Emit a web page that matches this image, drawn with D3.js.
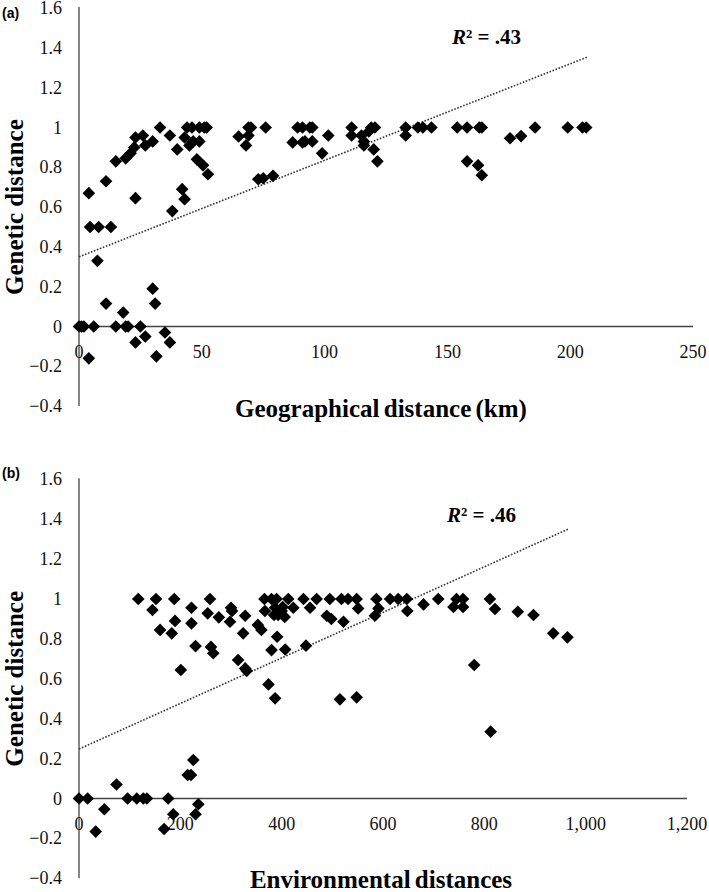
<!DOCTYPE html>
<html>
<head>
<meta charset="utf-8">
<script src="https://cdn.jsdelivr.net/npm/d3@7"></script>
<style>
  html, body { margin: 0; padding: 0; background: #fff; }
  svg { display: block; }
</style>
</head>
<body>
<svg id="chart" width="709" height="892"></svg>
<script>
// ---------- Panel (a): geographical distance ----------
const geoX = [0,1,2,6,15,19,20,25,
  27,23,35,37,31.5,4,
  30,31,11,18,
  7.5,
  4.5,8,13,
  4,11,23,42,43,38,
  15,19,21,22.5,23,26,27,30,
  33,37,40,43,44,45,46,46.5,49,49,51,52,
  48,50.5,52.5,
  65,68,69,69,70,76,
  73,75,79,
  87,89,91,91,92,94,95,95,99,101.5,
  111,111,115,116,116,118,119,120,120.5,121.5,
  133,133,138,140,143.5,
  154,158,163,164,
  158,162.5,164,
  175.5,180,185.7,199,205,206.5];
const geoY = [0,0,0,0,0,0,0,0,
  -0.05,-0.08,-0.03,-0.08,-0.15,-0.16,
  0.19,0.115,0.115,0.07,
  0.33,
  0.5,0.5,0.5,
  0.67,0.73,0.645,0.69,0.64,0.58,
  0.83,0.845,0.87,0.9,0.95,0.96,0.91,0.93,
  1.0,0.96,0.89,0.95,1.0,0.91,1.0,0.93,0.93,1.0,1.0,1.0,
  0.84,0.81,0.765,
  0.955,0.91,0.96,1.0,1.0,1.0,
  0.74,0.745,0.757,
  0.925,1.0,1.0,0.925,0.93,1.0,0.93,1.0,0.87,0.96,
  1.0,0.96,0.96,0.91,0.93,0.98,1.0,0.89,1.0,0.83,
  1.0,0.96,1.0,1.0,1.0,
  1.0,1.0,1.0,1.0,
  0.83,0.81,0.76,
  0.946,0.957,1.0,1.0,1.0,1.0];
const geoTrendX = [0, 207];
const geoTrendY = [0.35, 1.354];
const geoXTicks = [0, 50, 100, 150, 200, 250];

// ---------- Panel (b): environmental distance ----------
const envX = [0,17,96,114,127,134,176,74,50,33,186,168,230,235.5,225.6,214.5,221,
  117,152,188,258.5,366,380,390,413,443,469,495,518,531,548,587,614,630,647,709,745,758,811,
  145,222,254,276,300,302,298,328,353,360,367,387,393,400,406,423,456,489,498,522,551,591,584,648,680,739,758,821,866,897,936,964,
  395,385,402,
  189.5,222,160,183,324,391,230,260.5,265,380,407,448,314,328,331,201,374,387,515,548,780,812.5];
const envY = [0,0,0,0,0,0,0,0.07,-0.054,-0.166,-0.079,-0.153,-0.079,-0.029,0.193,0.118,0.118,
  1,1,1,1,1,1,1,1,1,1,1,1,1,1,1,1,1,1,1,1,1,1,
  0.945,0.956,0.928,0.908,0.956,0.94,0.886,0.916,0.87,0.845,0.94,0.956,0.92,0.94,0.91,0.956,0.956,0.916,0.9,0.886,0.953,0.953,0.916,0.94,0.973,0.96,0.96,0.95,0.936,0.92,0.828,0.808,
  0.93,0.92,0.96,
  0.89,0.878,0.845,0.828,0.828,0.811,0.764,0.76,0.728,0.744,0.747,0.766,0.694,0.652,0.64,0.644,0.572,0.502,0.497,0.507,0.669,0.335];
const envTrendX = [0, 967];
const envTrendY = [0.248, 1.352];
const envXTicks = [0, 200, 400, 600, 800, 1000, 1200];

const yTicks = [-0.4, -0.2, 0, 0.2, 0.4, 0.6, 0.8, 1, 1.2, 1.4, 1.6];
const yTitle = "Genetic distance";

const svg = d3.select("#chart");
const SERIF = "'Liberation Serif', 'Times New Roman', 'DejaVu Serif', serif";
const SANS = "'Liberation Sans', Arial, sans-serif";
const fmtY = v => d3.format("~g")(v).replace("-", "\u2212");

function drawPanel(p) {
  const g = svg.append("g");
  const x = d3.scaleLinear().domain(p.xDomain).range([79, p.xRight]);
  const y = d3.scaleLinear().domain([-0.4, 1.6]).range([p.yBottom, p.yTop]);

  // axis lines
  g.append("line").attr("x1", x(0)).attr("x2", x(0)).attr("y1", y(1.6) - 1).attr("y2", y(-0.4))
    .attr("stroke", "#444").attr("stroke-width", 1.3);
  g.append("line").attr("x1", x(0)).attr("x2", x(p.xDomain[1])).attr("y1", y(0)).attr("y2", y(0))
    .attr("stroke", "#444").attr("stroke-width", 1.3);

  // y tick labels
  g.selectAll(".yt").data(yTicks).enter().append("text")
    .attr("x", 62).attr("y", d => y(d) + 6)
    .attr("text-anchor", "end")
    .attr("font-family", SERIF).attr("font-size", 18).attr("fill", "#111")
    .text(fmtY);

  // x tick labels
  g.selectAll(".xt").data(p.xTicks).enter().append("text")
    .attr("x", d => x(d)).attr("y", y(0) + 31)
    .attr("text-anchor", "middle")
    .attr("font-family", SERIF).attr("font-size", 18).attr("fill", "#111")
    .text(d => d3.format(",")(d));

  // trend line
  const line = d3.line().x(d => x(d[0])).y(d => y(d[1]));
  g.append("path").datum(p.trendX.map((v, i) => [v, p.trendY[i]]))
    .attr("d", line).attr("fill", "none")
    .attr("stroke", "#333").attr("stroke-width", 1.6)
    .attr("stroke-dasharray", "1.6 1.6");

  // points
  const sym = d3.symbol().type(d3.symbolSquare).size(80);
  g.selectAll(".pt").data(p.xs.map((v, i) => [v, p.ys[i]])).enter().append("path")
    .attr("d", sym)
    .attr("transform", d => `translate(${x(d[0])},${y(d[1])}) rotate(45)`)
    .attr("fill", "#000");

  // panel letter
  g.append("text").attr("x", 2).attr("y", p.letterY)
    .attr("font-family", SANS).attr("font-weight", "bold").attr("font-size", 14)
    .text(p.letter);

  // R²
  const r = g.append("text").attr("x", p.rX).attr("y", p.rY)
    .attr("font-family", SERIF).attr("font-weight", "bold").attr("font-size", 21);
  r.append("tspan").attr("font-style", "italic").text("R");
  r.append("tspan").text("\u00B2 = " + p.rText);

  // y title
  g.append("text")
    .attr("transform", `translate(23,${(y(1.6) + y(-0.4)) / 2}) rotate(-90)`)
    .attr("text-anchor", "middle")
    .attr("font-family", SERIF).attr("font-weight", "bold").attr("font-size", 25)
    .text(yTitle);

  // x title
  g.append("text").attr("x", 381).attr("y", p.xTitleY)
    .attr("text-anchor", "middle").attr("word-spacing", -2)
    .attr("font-family", SERIF).attr("font-weight", "bold").attr("font-size", 25)
    .text(p.xTitle);
}

drawPanel({
  xs: geoX, ys: geoY, trendX: geoTrendX, trendY: geoTrendY, xTicks: geoXTicks,
  xDomain: [0, 250], xRight: 693, yTop: 8.1, yBottom: 406.1,
  letter: "(a)", letterY: 18, rX: 452, rY: 44, rText: ".43",
  xTitle: "Geographical distance (km)", xTitleY: 417
});
drawPanel({
  xs: envX, ys: envY, trendX: envTrendX, trendY: envTrendY, xTicks: envXTicks,
  xDomain: [0, 1200], xRight: 687, yTop: 479.3, yBottom: 878.3,
  letter: "(b)", letterY: 478, rX: 447, rY: 522, rText: ".46",
  xTitle: "Environmental distances", xTitleY: 888
});
</script>
</body>
</html>
